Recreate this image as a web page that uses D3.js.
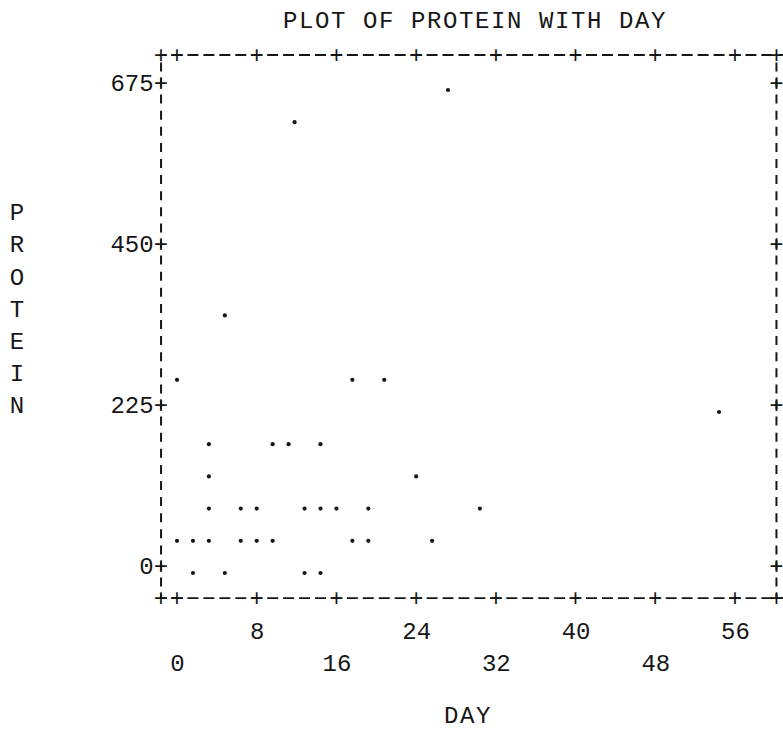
<!DOCTYPE html>
<html>
<head>
<meta charset="utf-8">
<script src="https://d3js.org/d3.v7.min.js"></script>
<style>
  body { margin: 0; background: #fff; }
  svg text { font-family: "Liberation Mono", "DejaVu Sans Mono", monospace; font-size: 24px; fill: #161616; }
</style>
</head>
<body>
<script>
// values (day, protein)
var days    = [0, 17.6, 20.8, 4.8, 27.2, 11.8, 54.4, 3.2, 9.6, 11.2, 14.4, 3.2, 24,
               3.2, 6.4, 8, 12.8, 14.4, 16, 19.2, 30.4,
               0, 1.6, 3.2, 6.4, 8, 9.6, 17.6, 19.2, 25.6,
               1.6, 4.8, 12.8, 14.4];
var protein = [270, 270, 270, 360, 675, 630, 225, 180, 180, 180, 180, 135, 135,
               90, 90, 90, 90, 90, 90, 90, 90,
               45, 45, 45, 45, 45, 45, 45, 45, 45,
               0, 0, 0, 0];
var xTicks = [0, 8, 16, 24, 32, 40, 48, 56];
var yTicks = [0, 225, 450, 675];
var title = "PLOT OF PROTEIN WITH DAY";
var xTitle = "DAY";
var yTitle = "PROTEIN";

var ink = "#161616";
var svg = d3.select("body").append("svg").attr("width", 783).attr("height", 739);

var x = d3.scaleLinear().domain([0, 56]).range([177, 735]);
var y = d3.scaleLinear().domain([0, 675]).range([566, 83]);

var colPx = x(1.6) - x(0);   // one typewriter column
var rowPx = y(0) - y(22.5);  // one printed line
var leftX = x(0) - colPx, rightX = x(56) + 2.6 * colPx;
var topY = y(675) - 28, botY = y(0) + 2 * rowPx;

// frame drawn like the printer's '-' and '|' characters
function hLine(yy) {
  svg.append("path")
     .attr("d", "M" + leftX + "," + yy + "H" + 783)
     .attr("stroke", ink).attr("stroke-width", 1.8).attr("fill", "none")
     .attr("stroke-dasharray", [5.5, colPx - 11, 5.5, 0].join(" "));
}
function vLine(xx) {
  svg.append("path")
     .attr("d", "M" + xx + "," + botY + "V" + topY)
     .attr("stroke", ink).attr("stroke-width", 2).attr("fill", "none")
     .attr("stroke-dasharray", [4.5, rowPx - 9, 4.5, 0].join(" "));
}
hLine(topY); hLine(botY);
vLine(leftX); vLine(rightX);

// '+' marks on the frame
var xPlus = [leftX].concat(xTicks.map(x)).concat([rightX]);
[topY, botY].forEach(function(yy) {
  svg.append("g").selectAll("text").data(xPlus).enter().append("text")
     .attr("x", function(d) { return d; })
     .attr("y", yy).attr("dy", "0.32em")
     .attr("text-anchor", "middle").text("+");
});
svg.append("g").selectAll("text").data(yTicks).enter().append("text")
   .attr("x", rightX).attr("y", function(d) { return y(d); })
   .attr("dy", "0.32em").attr("text-anchor", "middle").text("+");

// y axis labels "675+" etc.
var yAxis = svg.append("g").attr("transform", "translate(" + leftX + ",0)")
   .call(d3.axisLeft(y).tickValues(yTicks).tickSize(0).tickPadding(-7)
           .tickFormat(function(d) { return d + "+"; }));
yAxis.select(".domain").remove();

// x axis labels, staggered on two lines
var xAxis = svg.append("g").attr("transform", "translate(0," + botY + ")")
   .call(d3.axisBottom(x).tickValues(xTicks).tickSize(0).tickFormat(d3.format("d")));
xAxis.select(".domain").remove();
xAxis.selectAll("text").attr("y", function(d, i) { return i % 2 ? 24 : 56; });

// titles
svg.append("text").attr("x", 475).attr("y", 28).attr("text-anchor", "middle")
   .style("letter-spacing", "1.6px").text(title);
svg.append("text").attr("x", 468).attr("y", 723).attr("text-anchor", "middle")
   .style("letter-spacing", "1.6px").text(xTitle);
svg.append("g").selectAll("text").data(yTitle.split("")).enter().append("text")
   .attr("x", 17)
   .attr("y", function(d, i) { return y(225) + (i - 6) * 2 * rowPx; })
   .attr("dy", "0.35em").attr("text-anchor", "middle")
   .text(function(d) { return d; });

// the points, sitting low in the line like a printed '.'
var pts = days.map(function(d, i) { return { day: d, protein: protein[i] }; });
svg.append("g").selectAll("circle").data(pts).enter().append("circle")
   .attr("cx", function(d) { return x(d.day); })
   .attr("cy", function(d) { return y(d.protein) + 7; })
   .attr("r", 2.1)
   .style("fill", ink);
</script>
</body>
</html>
